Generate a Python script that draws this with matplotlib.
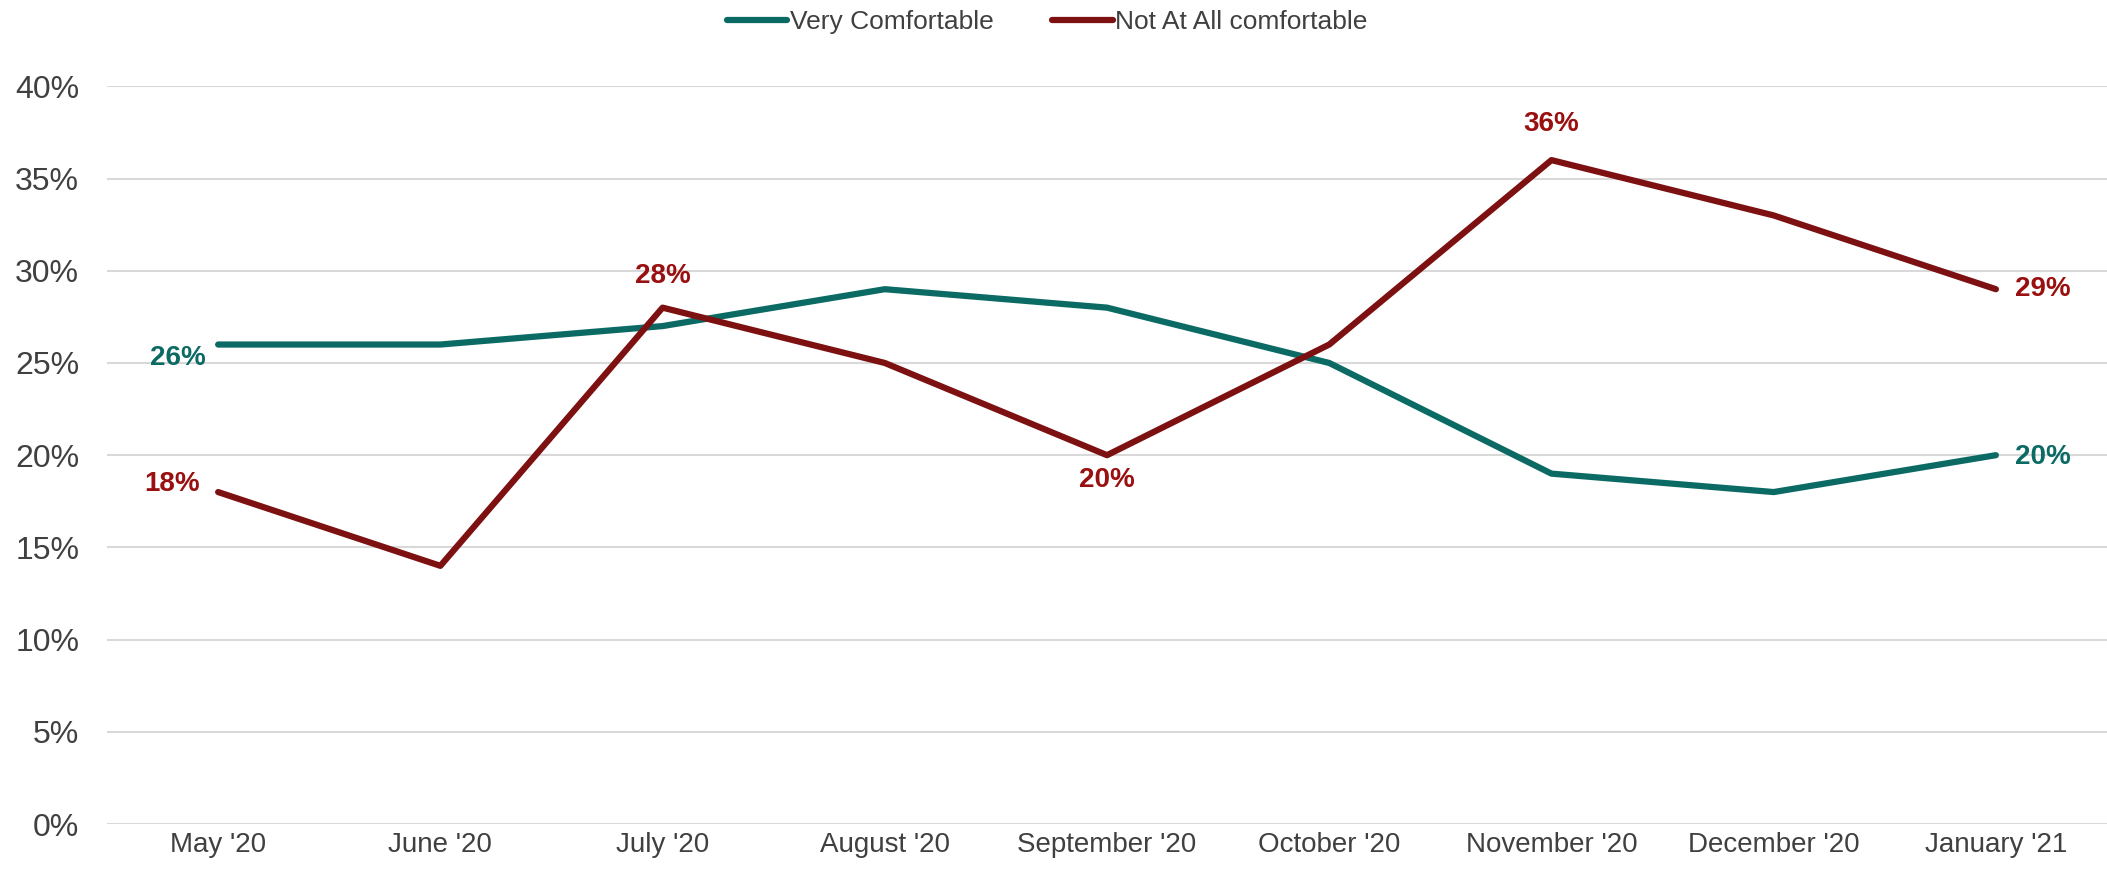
import matplotlib.pyplot as plt
from matplotlib.ticker import PercentFormatter

plt.rcParams['font.family'] = ['Liberation Sans', 'DejaVu Sans']

months = ["May '20", "June '20", "July '20", "August '20", "September '20",
          "October '20", "November '20", "December '20", "January '21"]
very_comfortable = [26, 26, 27, 29, 28, 25, 19, 18, 20]
not_comfortable = [18, 14, 28, 25, 20, 26, 36, 33, 29]

teal = '#0b6b64'
red = '#7d1010'
red_txt = '#9a0f0f'

fig = plt.figure(figsize=(21.07, 8.72), dpi=100)
ax = fig.add_axes([0.0508, 0.055, 0.9492, 0.846])

x = list(range(len(months)))
ax.plot(x, very_comfortable, color=teal, lw=4.5, solid_capstyle='round',
        solid_joinstyle='round', label='Very Comfortable')
ax.plot(x, not_comfortable, color=red, lw=4.5, solid_capstyle='round',
        solid_joinstyle='round', label='Not At All comfortable')

ax.set_xlim(-0.5, len(months) - 0.5)
ax.set_ylim(0, 40)
ax.set_yticks(range(0, 41, 5))
ax.yaxis.set_major_formatter(PercentFormatter(decimals=0))
ax.set_xticks(x)
ax.set_xticklabels(months)
ax.grid(axis='y', color='#d9d9d9', lw=1.5)
ax.set_axisbelow(True)
for s in ax.spines.values():
    s.set_visible(False)
ax.tick_params(axis='both', length=0, colors='#404040')
ax.tick_params(axis='y', labelsize=23, pad=20)
ax.tick_params(axis='x', labelsize=20, pad=6)

lab = dict(fontsize=20, fontweight='bold', family=['Liberation Sans Narrow', 'Liberation Sans'],
           textcoords='offset points', va='center', ha='center')
last = len(months) - 1
ax.annotate(f'{very_comfortable[0]}%', (0, very_comfortable[0]), xytext=(-29, -10),
            color=teal, **lab)
ax.annotate(f'{very_comfortable[last]}%', (last, very_comfortable[last]), xytext=(34, -1),
            color=teal, **lab)
ax.annotate(f'{not_comfortable[0]}%', (0, not_comfortable[0]), xytext=(-33, 6),
            color=red_txt, **lab)
ax.annotate(f'{not_comfortable[2]}%', (2, not_comfortable[2]), xytext=(0, 23),
            color=red_txt, **lab)
ax.annotate(f'{not_comfortable[4]}%', (4, not_comfortable[4]), xytext=(0, -18),
            color=red_txt, **lab)
ax.annotate(f'{not_comfortable[6]}%', (6, not_comfortable[6]), xytext=(0, 26),
            color=red_txt, **lab)
ax.annotate(f'{not_comfortable[last]}%', (last, not_comfortable[last]), xytext=(34, 0),
            color=red_txt, **lab)

fig.legend(loc='center', bbox_to_anchor=(0.497, 0.975), ncol=2, frameon=False,
           fontsize=19, handlelength=2.3, handletextpad=0.1, columnspacing=2.2,
           labelcolor='#404040')

fig.savefig('out.png', dpi=100)
